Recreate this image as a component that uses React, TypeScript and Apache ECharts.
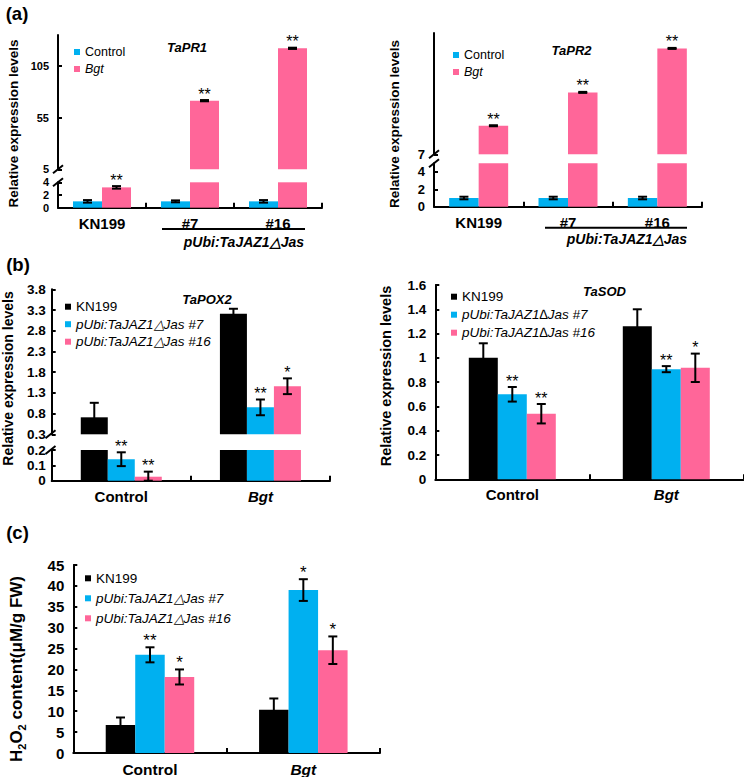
import React, { useEffect, useRef } from 'react';
import * as echarts from 'echarts';

const FONT = "Arial, 'Liberation Sans', Helvetica, sans-serif";
const BLUE = '#00B0F0';
const PINK = '#FF6699';
const BLACK = '#000000';

// ---------- (a) TaPR1 / TaPR2 ----------
const lineCats = ['KN199', '#7', '#16'];
const condNames = ['Control', 'Bgt'];
const pr1Control = [1.0, 1.0, 1.0];
const pr1ControlErr = [0.2, 0.15, 0.2];
const pr1Bgt = [3.2, 71.5, 122.2];
const pr1BgtErr = [0.2, 0.6, 0.6];
const pr1ControlStars = ['', '', ''];
const pr1BgtStars = ['**', '**', '**'];
const pr1LowTicks = [0, 2, 4];
const pr1HighTicks = [5, 55, 105];

const pr2Control = [1.0, 1.0, 1.0];
const pr2ControlErr = [0.15, 0.15, 0.15];
const pr2Bgt = [18.3, 31.5, 48.9];
const pr2BgtErr = [0.2, 0.2, 0.2];
const pr2ControlStars = ['', '', ''];
const pr2BgtStars = ['**', '**', '**'];
const pr2LowTicks = [0, 2, 4];
const pr2HighTicks = [7];

// ---------- (b) TaPOX2 / TaSOD, (c) H2O2 ----------
const treatCats = ['Control', 'Bgt'];
const italicCats = ['Bgt'];
const lineNames = ['KN199', 'pUbi:TaJAZ1△Jas #7', 'pUbi:TaJAZ1△Jas #16'];
const lineNamesSod = ['KN199', 'pUbi:TaJAZ1∆Jas #7', 'pUbi:TaJAZ1∆Jas #16'];

const pox2Kn199 = [0.71, 3.21];
const pox2Kn199Err = [0.35, 0.12];
const pox2L7 = [0.14, 0.95];
const pox2L7Err = [0.045, 0.19];
const pox2L16 = [0.026, 1.46];
const pox2L16Err = [0.033, 0.19];
const pox2Kn199Stars = ['', ''];
const pox2L7Stars = ['**', '**'];
const pox2L16Stars = ['**', '*'];
const pox2LowTicks = [0, 0.1, 0.2];
const pox2HighTicks = [0.3, 0.8, 1.3, 1.8, 2.3, 2.8, 3.3, 3.8];

const sodKn199 = [1.0, 1.26];
const sodKn199Err = [0.12, 0.14];
const sodL7 = [0.70, 0.907];
const sodL7Err = [0.06, 0.025];
const sodL16 = [0.54, 0.918];
const sodL16Err = [0.08, 0.117];
const sodKn199Stars = ['', ''];
const sodL7Stars = ['**', '**'];
const sodL16Stars = ['**', '*'];
const sodTicks = [0, 0.2, 0.4, 0.6, 0.8, 1, 1.2, 1.4, 1.6];

const h2o2Kn199 = [6.7, 10.35];
const h2o2Kn199Err = [1.8, 2.7];
const h2o2L7 = [23.5, 39.0];
const h2o2L7Err = [1.8, 2.6];
const h2o2L16 = [18.2, 24.6];
const h2o2L16Err = [1.8, 3.3];
const h2o2Kn199Stars = ['', ''];
const h2o2L7Stars = ['**', '*'];
const h2o2L16Stars = ['*', '*'];
const h2o2Ticks = [0, 5, 10, 15, 20, 25, 30, 35, 40, 45];

// ---------- helpers ----------
function valueAxis(gridIndex: number, min: number, max: number, ticks: number[], fontSize: number, margin = 9) {
  return {
    type: 'value', gridIndex, min, max,
    axisLine: { show: true, lineStyle: { color: BLACK, width: 2 } },
    axisTick: { show: true, inside: true, length: 4, customValues: ticks, lineStyle: { color: BLACK, width: 2 } },
    axisLabel: {
      customValues: ticks, fontSize, fontWeight: 'bold', color: BLACK, fontFamily: FONT, margin,
      showMinLabel: true, showMaxLabel: true, hideOverlap: false, lineHeight: fontSize,
      formatter: (v: number) => String(v),
    },
    splitLine: { show: false },
  };
}

function catAxis(gridIndex: number, cats: string[], show: boolean, fontSize: number) {
  return {
    type: 'category', gridIndex, show,
    data: cats.map((c) => (italicCats.includes(c) ? { value: c, textStyle: { fontStyle: 'italic' } } : c)),
    axisLine: { lineStyle: { color: BLACK, width: 2 } },
    axisTick: { show: true, inside: true, length: 5, interval: 0, lineStyle: { color: BLACK, width: 2 } },
    axisLabel: { interval: 0, fontSize, fontWeight: 'bold', color: BLACK, fontFamily: FONT, margin: 8 },
  };
}

function bars(name: string, idx: number, data: number[], color: string, barWidth: number, lo: number) {
  return {
    type: 'bar', name, xAxisIndex: idx, yAxisIndex: idx, barWidth, barGap: '0%', clip: true, z: 2,
    data: data.map((v) => (v > lo ? v : '-')),
    itemStyle: { color },
  };
}

function errBars(idx: number, vals: number[], errs: number[], stars: string[], offset: number, lo: number, hi: number, starSize: number) {
  return {
    type: 'custom', xAxisIndex: idx, yAxisIndex: idx, z: 5, silent: true,
    data: vals.map((v, i) => [i, v]),
    renderItem: (params: any, api: any) => {
      const i = params.dataIndex;
      const v = vals[i];
      const e = errs[i];
      if (v <= lo || v > hi) return { type: 'group', children: [] };
      const top = api.coord([i, v + e]);
      const bot = api.coord([i, Math.max(v - e, lo)]);
      const x = top[0] + offset;
      const cap = 4.5;
      const ls = { stroke: BLACK, lineWidth: 2 };
      const children: any[] = [
        { type: 'line', shape: { x1: x, y1: top[1], x2: x, y2: bot[1] }, style: ls },
        { type: 'line', shape: { x1: x - cap, y1: top[1], x2: x + cap, y2: top[1] }, style: ls },
        { type: 'line', shape: { x1: x - cap, y1: bot[1], x2: x + cap, y2: bot[1] }, style: ls },
      ];
      if (stars[i]) {
        children.push({
          type: 'text', x, y: top[1] + 2,
          style: { text: stars[i], align: 'center', verticalAlign: 'bottom', fontSize: starSize, fontFamily: FONT, fill: BLACK },
        });
      }
      return { type: 'group', children };
    },
  };
}

function legend(names: string[], italicFrom: (n: string, i: number) => boolean, left: number, firstCenter: number, spacing: number, fontSize: number) {
  return {
    orient: 'vertical', left, top: firstCenter - spacing / 2, itemWidth: 6, itemHeight: 6, itemGap: 0,
    icon: 'rect', selectedMode: false,
    textStyle: { fontSize, color: BLACK, fontFamily: FONT, lineHeight: spacing },
    data: names.map((n, i) => (italicFrom(n, i) ? { name: n, textStyle: { fontStyle: 'italic' } } : { name: n })),
  };
}

function slash(cx: number, cy: number) {
  return { type: 'line', shape: { x1: cx - 5, y1: cy + 4, x2: cx + 5, y2: cy - 4 }, style: { stroke: BLACK, lineWidth: 2 } };
}

function txt(x: number, y: number, text: string, fontSize: number, extra: any = {}, rotation = 0) {
  return {
    type: 'text', x, y, rotation,
    style: { text, fontSize, fontWeight: 'bold', fontFamily: FONT, fill: BLACK, align: 'center', verticalAlign: 'middle', ...extra },
  };
}

export default function App() {
  const ref = useRef<HTMLDivElement>(null);
  useEffect(() => {
    if (!ref.current) return;
    const chart = echarts.init(ref.current, undefined, { renderer: 'svg' });

    const grids = [
      { left: 58, top: 182.3, width: 264, height: 25.4 },    // 0 a-left low
      { left: 58, top: 35.1, width: 264, height: 134.2 },    // 1 a-left high
      { left: 434, top: 163.3, width: 268, height: 43.4 },   // 2 a-right low
      { left: 434, top: 33, width: 268, height: 121.3 },     // 3 a-right high
      { left: 51.7, top: 450, width: 278.3, height: 30.7 },  // 4 b-left low
      { left: 51.7, top: 289.3, width: 278.3, height: 145 }, // 5 b-left high
      { left: 435.3, top: 285, width: 308, height: 194.3 },  // 6 b-right
      { left: 73.3, top: 565, width: 306.7, height: 190 },   // 7 c
    ];

    const xAxis = [
      catAxis(0, lineCats, true, 15),
      catAxis(1, lineCats, false, 15),
      catAxis(2, lineCats, true, 15),
      catAxis(3, lineCats, false, 15),
      catAxis(4, treatCats, true, 15),
      catAxis(5, treatCats, false, 15),
      catAxis(6, treatCats, true, 15),
      catAxis(7, treatCats, true, 15.5),
    ];

    const yAxis = [
      valueAxis(0, 0, 4, pr1LowTicks, 11),
      valueAxis(1, 5, 135, pr1HighTicks, 11),
      valueAxis(2, 0, 5, pr2LowTicks, 13),
      valueAxis(3, 7, 55, pr2HighTicks, 13),
      valueAxis(4, 0, 0.2, pox2LowTicks, 13.5, 6),
      valueAxis(5, 0.3, 3.8, pox2HighTicks, 13.5, 6),
      valueAxis(6, 0, 1.6, sodTicks, 13.5),
      valueAxis(7, 0, 45, h2o2Ticks, 15),
    ];

    const series: any[] = [];
    // (a) left
    const wA1 = 29;
    [[0, 0, 4], [1, 5, 135]].forEach(([idx, lo, hi]) => {
      series.push(bars('Control', idx, pr1Control, BLUE, wA1, lo));
      series.push(bars('Bgt', idx, pr1Bgt, PINK, wA1, lo));
      series.push(errBars(idx, pr1Control, pr1ControlErr, pr1ControlStars, -wA1 / 2, lo, hi, 16));
      series.push(errBars(idx, pr1Bgt, pr1BgtErr, pr1BgtStars, wA1 / 2, lo, hi, 16));
    });
    // (a) right
    const wA2 = 29.5;
    [[2, 0, 5], [3, 7, 55]].forEach(([idx, lo, hi]) => {
      series.push(bars('Control', idx, pr2Control, BLUE, wA2, lo));
      series.push(bars('Bgt', idx, pr2Bgt, PINK, wA2, lo));
      series.push(errBars(idx, pr2Control, pr2ControlErr, pr2ControlStars, -wA2 / 2, lo, hi, 16));
      series.push(errBars(idx, pr2Bgt, pr2BgtErr, pr2BgtStars, wA2 / 2, lo, hi, 16));
    });
    // (b) left TaPOX2
    const wB1 = 27;
    [[4, 0, 0.2], [5, 0.3, 3.8]].forEach(([idx, lo, hi]) => {
      series.push(bars(lineNames[0], idx, pox2Kn199, BLACK, wB1, lo));
      series.push(bars(lineNames[1], idx, pox2L7, BLUE, wB1, lo));
      series.push(bars(lineNames[2], idx, pox2L16, PINK, wB1, lo));
      series.push(errBars(idx, pox2Kn199, pox2Kn199Err, pox2Kn199Stars, -wB1, lo, hi, 16));
      series.push(errBars(idx, pox2L7, pox2L7Err, pox2L7Stars, 0, lo, hi, 16));
      series.push(errBars(idx, pox2L16, pox2L16Err, pox2L16Stars, wB1, lo, hi, 16));
    });
    // (b) right TaSOD
    const wB2 = 29;
    series.push(bars(lineNamesSod[0], 6, sodKn199, BLACK, wB2, -1));
    series.push(bars(lineNamesSod[1], 6, sodL7, BLUE, wB2, -1));
    series.push(bars(lineNamesSod[2], 6, sodL16, PINK, wB2, -1));
    series.push(errBars(6, sodKn199, sodKn199Err, sodKn199Stars, -wB2, 0, 1.6, 16));
    series.push(errBars(6, sodL7, sodL7Err, sodL7Stars, 0, 0, 1.6, 16));
    series.push(errBars(6, sodL16, sodL16Err, sodL16Stars, wB2, 0, 1.6, 16));
    // (c) H2O2
    const wC = 29.5;
    series.push(bars(lineNames[0], 7, h2o2Kn199, BLACK, wC, -1));
    series.push(bars(lineNames[1], 7, h2o2L7, BLUE, wC, -1));
    series.push(bars(lineNames[2], 7, h2o2L16, PINK, wC, -1));
    series.push(errBars(7, h2o2Kn199, h2o2Kn199Err, h2o2Kn199Stars, -wC, 0, 45, 17));
    series.push(errBars(7, h2o2L7, h2o2L7Err, h2o2L7Stars, 0, 0, 45, 17));
    series.push(errBars(7, h2o2L16, h2o2L16Err, h2o2L16Stars, wC, 0, 45, 17));

    const notFirst = (_n: string, i: number) => i > 0;
    const legends = [
      legend(condNames, notFirst, 69, 47, 17, 12.5),
      legend(condNames, notFirst, 448, 50, 17, 12.5),
      legend(lineNames, notFirst, 60, 301.7, 17.5, 13.5),
      legend(lineNamesSod, notFirst, 446, 291.7, 18, 13.5),
      legend(lineNames, notFirst, 80, 573.3, 20, 13.5),
    ];

    const graphic: any[] = [
      txt(17, 13.5, '(a)', 18.5),
      txt(18, 264, '(b)', 18.5),
      txt(17.5, 532.5, '(c)', 18.5),
      // gene titles
      txt(187, 47.5, 'TaPR1', 13, { fontStyle: 'italic' }),
      txt(571.5, 50.5, 'TaPR2', 13, { fontStyle: 'italic' }),
      txt(207, 299.3, 'TaPOX2', 13, { fontStyle: 'italic' }),
      txt(604.5, 291.7, 'TaSOD', 13, { fontStyle: 'italic' }),
      // y titles
      txt(13, 123.5, 'Relative expression levels', 13.5, {}, Math.PI / 2),
      txt(394, 124, 'Relative expression levels', 13.5, {}, Math.PI / 2),
      txt(8, 378.5, 'Relative expression levels', 14, {}, Math.PI / 2),
      txt(386, 376, 'Relative expression levels', 14.5, {}, Math.PI / 2),
      {
        type: 'text', x: 16.7, y: 669, rotation: Math.PI / 2,
        style: {
          text: '{n|H}{s|2}{n|O}{s|2}{n| content(μM/g FW)}',
          align: 'center', verticalAlign: 'middle', fill: BLACK, fontFamily: FONT,
          rich: {
            n: { fontSize: 17, fontWeight: 'bold', lineHeight: 22, fontFamily: FONT, fill: BLACK },
            s: { fontSize: 11, fontWeight: 'bold', lineHeight: 12, verticalAlign: 'bottom', fontFamily: FONT, fill: BLACK },
          },
        },
      },
      // transgenic line brackets
      { type: 'line', shape: { x1: 162, y1: 229, x2: 305, y2: 229 }, style: { stroke: BLACK, lineWidth: 2 } },
      txt(304, 242, 'pUbi:TaJAZ1△Jas', 14, { fontStyle: 'italic', align: 'right' }),
      { type: 'line', shape: { x1: 545, y1: 227.7, x2: 687, y2: 227.7 }, style: { stroke: BLACK, lineWidth: 2 } },
      txt(687, 239.3, 'pUbi:TaJAZ1△Jas', 14, { fontStyle: 'italic', align: 'right' }),
      // axis breaks
      slash(58, 169.3), slash(58, 182.3),
      slash(434, 154.3), slash(434, 163.3),
      slash(50.5, 434.3), slash(50.5, 450),
    ];

    chart.setOption({
      animation: false,
      backgroundColor: '#ffffff',
      grid: grids,
      xAxis,
      yAxis,
      legend: legends,
      series,
      graphic,
    });
    return () => chart.dispose();
  }, []);

  return <div ref={ref} style={{ position: 'fixed', left: 0, top: 0, width: 744, height: 777 }} />;
}
